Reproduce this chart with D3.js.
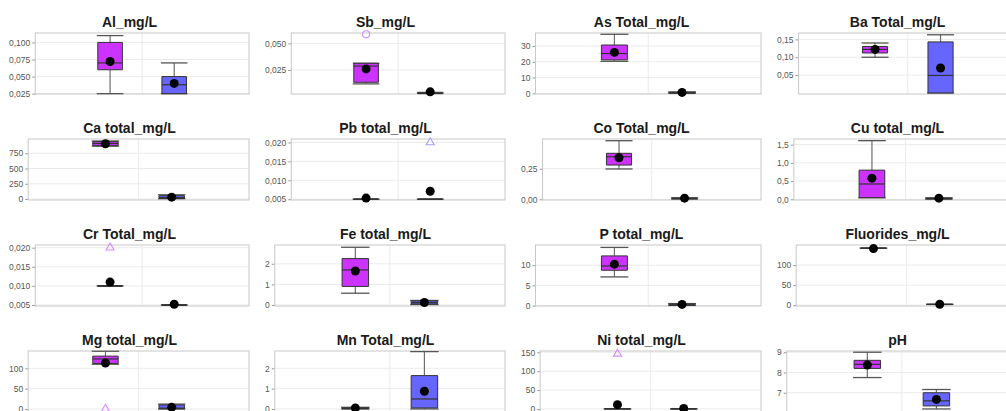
<!DOCTYPE html>
<meta charset="utf-8">
<style>
body { margin: 0; background: #fff; }
.tick text { font: 8.5px "Liberation Sans", Arial, sans-serif; fill: #555; }
.tick line { stroke: #999; }
.title { font: bold 14px "Liberation Sans", Arial, sans-serif; fill: #1a1a1a; }
</style>
<body>
<script src="https://d3js.org/d3.v7.min.js"></script>
<script>

// panel titles
var titles = ["Al_mg/L", "Sb_mg/L", "As Total_mg/L", "Ba Total_mg/L",
              "Ca total_mg/L", "Pb total_mg/L", "Co Total_mg/L", "Cu total_mg/L",
              "Cr Total_mg/L", "Fe total_mg/L", "P total_mg/L", "Fluorides_mg/L",
              "Mg total_mg/L", "Mn Total_mg/L", "Ni total_mg/L", "pH"];

// y axis ranges and ticks
var yLow  = [0.0245, 0.0025, -0.4, -0.003, -16, 0.0048, -0.006, -0.02, 0.00474, -0.05, -0.1, -2, -7.4, -0.15, -8, 6.05];
var yHigh = [0.1138, 0.0597, 38.2, 0.168, 983, 0.0209, 0.493, 1.656, 0.0207, 2.91, 15, 150, 142.6, 2.85, 153.4, 9.06];
var yTicks = [[0.025, 0.05, 0.075, 0.1], [0.025, 0.05], [0, 10, 20, 30], [0.05, 0.1, 0.15],
              [0, 250, 500, 750], [0.005, 0.01, 0.015, 0.02], [0, 0.25], [0, 0.5, 1, 1.5],
              [0.005, 0.01, 0.015, 0.02], [0, 1, 2], [0, 5, 10], [0, 50, 100],
              [0, 50, 100], [0, 1, 2], [0, 50, 100, 150], [7, 8, 9]];
var tickDecimals = [3, 3, 0, 2, 0, 3, 2, 1, 3, 0, 0, 0, 0, 0, 0, 0];

// group 1 (magenta) statistics
var g1Min  = [0.025, 0.012, 20.3, 0.100, 865, 0.005, 0.248, 0.04, 0.010, 0.57, 7.1, 142, 110, 0, 0.5, 7.75];
var g1Q1   = [0.060, 0.0135, 21.2, 0.112, 875, 0.005, 0.280, 0.045, 0.010, 0.9, 8.75, 142, 112, 0.01, 0.5, 8.2];
var g1Med  = [0.070, 0.0287, 25.2, 0.122, 910, 0.005, 0.348, 0.42, 0.010, 1.7, 9.8, 142, 123, 0.03, 0.5, 8.4];
var g1Q3   = [0.100, 0.0313, 30.6, 0.130, 940, 0.005, 0.376, 0.80, 0.010, 2.25, 12.3, 142, 130, 0.05, 0.5, 8.6];
var g1Max  = [0.110, 0.0313, 37.4, 0.140, 950, 0.005, 0.479, 1.61, 0.010, 2.8, 14.4, 142, 142, 0.08, 0.5, 9.0];
var g1Mean = [0.072, 0.026, 25.9, 0.122, 905, 0.0053, 0.34, 0.58, 0.011, 1.65, 10.25, 141, 113, 0.05, 11.5, 8.37];

// group 2 (blue) statistics
var g2Min  = [0.025, 0.003, 0.1, 0, 5, 0.005, 0.002, 0.005, 0.005, 0.02, 0.05, 2, 0, 0, 0.5, 6.2];
var g2Q1   = [0.025, 0.003, 0.2, 0, 10, 0.005, 0.004, 0.01, 0.005, 0.05, 0.1, 2, 0.5, 0.05, 0.5, 6.35];
var g2Med  = [0.038, 0.003, 0.4, 0.049, 25, 0.005, 0.006, 0.02, 0.005, 0.12, 0.2, 2, 2, 0.49, 0.5, 6.6];
var g2Q3   = [0.050, 0.0035, 0.7, 0.143, 55, 0.005, 0.010, 0.03, 0.005, 0.2, 0.4, 2, 10, 1.64, 0.5, 7.0];
var g2Max  = [0.070, 0.004, 0.9, 0.163, 70, 0.005, 0.012, 0.04, 0.005, 0.22, 0.5, 2, 12, 2.82, 0.5, 7.16];
var g2Mean = [0.040, 0.0045, 0.6, 0.070, 30, 0.0071, 0.009, 0.03, 0.0052, 0.12, 0.3, 2.5, 4, 0.87, 1.5, 6.67];

// outliers
var outPanel = [1, 5, 8, 12, 14];
var outGroup = [0, 1, 0, 0, 0];
var outValue = [0.0585, 0.020, 0.020, 0, 146];
var outKind  = ["mild", "extreme", "extreme", "extreme", "extreme"];

var groups = ["group1", "group2"];
var fillColors = ["#cc33ff", "#6666ff"];
var outColors = ["#cf8cff", "#a3a3ff"];

var cellW = 256, rowH = 106, plotH = 61, top0 = 33;

var svg = d3.select("body").append("svg")
    .attr("width", 1006)
    .attr("height", 411);

titles.forEach(function (title, i) {
    var col = i % 4, row = Math.floor(i / 4);
    var cellX = col * cellW - 5;
    var right = cellX + 254;
    var top = top0 + row * rowH;
    var g = svg.append("g");

    var y = d3.scaleLinear().domain([yLow[i], yHigh[i]]).range([top + plotH, top]);
    var fmt = function (d) { return d.toFixed(tickDecimals[i]).replace(".", ","); };

    var axis = g.append("g")
        .call(d3.axisLeft(y).tickValues(yTicks[i]).tickFormat(fmt).tickSize(3).tickPadding(2));
    axis.select(".domain").remove();

    // plot area starts after the widest tick label
    var labelW = d3.max(axis.selectAll("text").nodes(), function (n) { return n.getComputedTextLength(); });
    var left = cellX + 14 + labelW + 5;
    axis.attr("transform", "translate(" + left + ",0)");

    var x = d3.scalePoint().domain(groups).range([left, right]).padding(1.1667);
    var boxW = 0.115 * (right - left);

    // gridlines
    g.selectAll(".hgrid")
        .data(yTicks[i])
        .enter().append("line")
        .attr("x1", left).attr("x2", right)
        .attr("y1", function (d) { return y(d); })
        .attr("y2", function (d) { return y(d); })
        .attr("stroke", "#ebebeb");
    g.append("line")
        .attr("x1", (left + right) / 2).attr("x2", (left + right) / 2)
        .attr("y1", top).attr("y2", top + plotH)
        .attr("stroke", "#ebebeb");

    // frame
    g.append("rect")
        .attr("x", left).attr("y", top)
        .attr("width", right - left).attr("height", plotH)
        .attr("fill", "none")
        .attr("stroke", "#c8c8c8");

    // title
    g.append("text")
        .attr("class", "title")
        .attr("x", (cellX + 15 + right) / 2)
        .attr("y", top - 6)
        .attr("text-anchor", "middle")
        .text(title);

    var stats = [
        {min: g1Min[i], q1: g1Q1[i], med: g1Med[i], q3: g1Q3[i], max: g1Max[i], mean: g1Mean[i]},
        {min: g2Min[i], q1: g2Q1[i], med: g2Med[i], q3: g2Q3[i], max: g2Max[i], mean: g2Mean[i]}
    ];

    stats.forEach(function (s, k) {
        var cx = x(groups[k]);
        var x0 = cx - boxW / 2, x1 = cx + boxW / 2;

        // whiskers
        g.append("line")
            .attr("x1", cx).attr("x2", cx)
            .attr("y1", y(s.max)).attr("y2", y(s.q3))
            .attr("stroke", "#6e6e6e").attr("stroke-width", 1.2);
        g.append("line")
            .attr("x1", cx).attr("x2", cx)
            .attr("y1", y(s.q1)).attr("y2", y(s.min))
            .attr("stroke", "#6e6e6e").attr("stroke-width", 1.2);
        [s.min, s.max].forEach(function (v) {
            g.append("line")
                .attr("x1", x0 - 1).attr("x2", x1 + 1)
                .attr("y1", y(v)).attr("y2", y(v))
                .attr("stroke", "#555").attr("stroke-width", 1.3);
        });

        // box
        g.append("path")
            .attr("d", "M" + x0 + "," + y(s.q3) + "H" + x1 + "V" + y(s.q1) + "H" + x0 + "Z")
            .attr("fill", fillColors[k])
            .attr("stroke", "#333")
            .attr("stroke-width", 1);
        g.append("line")
            .attr("x1", x0).attr("x2", x1)
            .attr("y1", y(s.med)).attr("y2", y(s.med))
            .attr("stroke", "#333").attr("stroke-width", 1.2);

        // mean
        g.append("circle")
            .attr("cx", cx).attr("cy", y(s.mean))
            .attr("r", 4.5)
            .attr("fill", "#000");
    });

    // outliers
    outPanel.forEach(function (p, j) {
        if (p !== i) return;
        var cx = x(groups[outGroup[j]]);
        var shape = outKind[j] === "mild" ? d3.symbolCircle : d3.symbolTriangle;
        g.append("path")
            .attr("d", d3.symbol().type(shape).size(outKind[j] === "mild" ? 40 : 28)())
            .attr("transform", "translate(" + cx + "," + y(outValue[j]) + ")")
            .attr("fill", "none")
            .attr("stroke", outColors[outGroup[j]])
            .attr("stroke-width", 1.1);
    });
});

</script>
</body>
